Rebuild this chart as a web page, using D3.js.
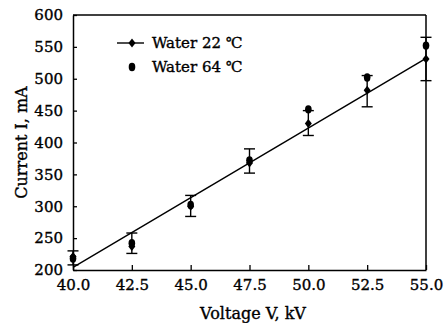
<!DOCTYPE html>
<html>
<head>
<meta charset="utf-8">
<script src="https://cdn.jsdelivr.net/npm/d3@7"></script>
<style>
	body { margin: 0; background: #fff; }
	text { font-family: "DejaVu Serif", serif; fill: #000; stroke: #000; stroke-width: 0.35px; }
</style>
</head>
<body>
<div id="chart"></div>
<script>
// voltage (kV) and measured current (mA)
var voltage = [40.0, 42.5, 45.0, 47.5, 50.0, 52.5, 55.0];
var water22 = [221, 237, 300, 368, 430, 482, 531];
var water64 = [218, 242, 302, 372, 452, 502, 552];
// error bar ends for the 22 ℃ series
var errLow = [208, 226, 284, 352, 411, 456, 497];
var errHigh = [230, 258, 317, 390, 450, 505, 565];
// straight fit through 22 ℃ data
var fitV = [40.0, 55.0];
var fitI = [204, 532];
var xTicks = [40.0, 42.5, 45.0, 47.5, 50.0, 52.5, 55.0];
var yTicks = [200, 250, 300, 350, 400, 450, 500, 550, 600];
var legendNames = ['Water 22 ℃', 'Water 64 ℃'];

var W = 447, H = 323;
var margin = { left: 73, right: 21, top: 15, bottom: 53 };
var pw = W - margin.left - margin.right;
var ph = H - margin.top - margin.bottom;

var svg = d3.select('#chart').append('svg')
	.attr('width', W)
	.attr('height', H);

var x = d3.scaleLinear().domain([40, 55]).range([margin.left, margin.left + pw]);
var y = d3.scaleLinear().domain([200, 600]).range([margin.top + ph, margin.top]);

// axes with inward ticks
svg.append('g')
	.attr('transform', 'translate(0,' + (margin.top + ph) + ')')
	.call(d3.axisBottom(x).tickValues(xTicks).tickFormat(d3.format('.1f')).tickSizeInner(-5).tickSizeOuter(0).tickPadding(9))
	.call(g => g.selectAll('text').style('font-size', '15px').attr('fill', '#000'));

svg.append('g')
	.attr('transform', 'translate(' + margin.left + ',0)')
	.call(d3.axisLeft(y).tickValues(yTicks).tickSizeInner(-4).tickSizeOuter(0).tickPadding(10))
	.call(g => g.selectAll('text').style('font-size', '15px').attr('fill', '#000'));

svg.selectAll('.domain').attr('stroke', '#000').attr('stroke-width', 1.5);
svg.selectAll('.tick line').attr('stroke', '#000').attr('stroke-width', 1.3);

// top and right frame
svg.append('line')
	.attr('x1', margin.left).attr('x2', margin.left + pw)
	.attr('y1', margin.top).attr('y2', margin.top)
	.attr('stroke', '#000').attr('stroke-width', 1.3);
svg.append('line')
	.attr('x1', margin.left + pw).attr('x2', margin.left + pw)
	.attr('y1', margin.top).attr('y2', margin.top + ph)
	.attr('stroke', '#000').attr('stroke-width', 1.5);

// fit line
var line = d3.line().x((d, i) => x(fitV[i])).y(d => y(d));
svg.append('path')
	.datum(fitI)
	.attr('d', line)
	.attr('fill', 'none')
	.attr('stroke', '#000')
	.attr('stroke-width', 1.4);

// error bars
var capW = 5.5;
var errG = svg.append('g').attr('stroke', '#000').attr('stroke-width', 1.4);
voltage.forEach((v, i) => {
	let lo = Math.max(errLow[i], 200);
	errG.append('line')
		.attr('x1', x(v)).attr('x2', x(v))
		.attr('y1', y(lo)).attr('y2', y(errHigh[i]));
	errG.append('line')
		.attr('x1', x(v) - capW).attr('x2', x(v) + capW)
		.attr('y1', y(errHigh[i])).attr('y2', y(errHigh[i]));
	if (errLow[i] > 200) {
		errG.append('line')
			.attr('x1', x(v) - capW).attr('x2', x(v) + capW)
			.attr('y1', y(lo)).attr('y2', y(lo));
	}
});

var diamond = 'M0,-4.5L3.5,0L0,4.5L-3.5,0Z';

// Water 64 ℃ dots
svg.append('g')
	.selectAll('ellipse')
	.data(water64)
	.enter()
	.append('ellipse')
	.attr('cx', (d, i) => x(voltage[i]))
	.attr('cy', d => y(d))
	.attr('rx', 3.3)
	.attr('ry', 4.2)
	.attr('fill', '#000');

// Water 22 ℃ diamonds
svg.append('g')
	.selectAll('path')
	.data(water22)
	.enter()
	.append('path')
	.attr('d', diamond)
	.attr('transform', (d, i) => 'translate(' + x(voltage[i]) + ',' + y(d) + ')')
	.attr('fill', '#000');

// legend
var lg = svg.append('g');
lg.append('line')
	.attr('x1', 117).attr('x2', 144)
	.attr('y1', 43).attr('y2', 43)
	.attr('stroke', '#000').attr('stroke-width', 1.4);
lg.append('path').attr('d', diamond).attr('transform', 'translate(132,43)').attr('fill', '#000');
lg.append('ellipse').attr('cx', 132).attr('cy', 67).attr('rx', 3.3).attr('ry', 4.2).attr('fill', '#000');
lg.selectAll('.lgtext')
	.data(legendNames)
	.enter()
	.append('text')
	.attr('x', 152)
	.attr('y', (d, i) => 48 + i * 24)
	.style('font-size', '15px')
	.text(String);

// axis titles
svg.append('text')
	.attr('x', 253)
	.attr('y', 319)
	.attr('text-anchor', 'middle')
	.style('font-size', '16px')
	.text('Voltage V, kV');

svg.append('text')
	.attr('transform', 'translate(27,' + (margin.top + ph / 2) + ') rotate(-90)')
	.attr('text-anchor', 'middle')
	.style('font-size', '16px')
	.text('Current I, mA');
</script>
</body>
</html>
